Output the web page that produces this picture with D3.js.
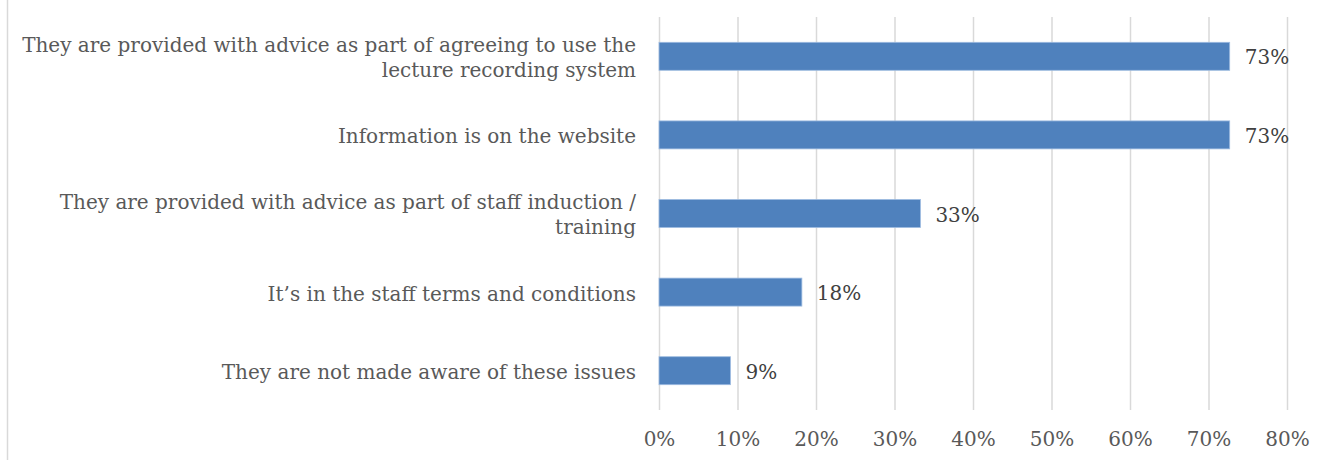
<!DOCTYPE html><html><head><meta charset="utf-8"><script src="https://cdn.jsdelivr.net/npm/d3@7"></script>
<style>body{margin:0;background:#fff}</style></head><body><svg id="chart" width="1323" height="460"></svg><script>
const categories = [
  ["They are provided with advice as part of agreeing to use the", "lecture recording system"],
  ["Information is on the website"],
  ["They are provided with advice as part of staff induction /", "training"],
  ["It\u2019s in the staff terms and conditions"],
  ["They are not made aware of these issues"]
];
const values = [0.727, 0.727, 0.333, 0.182, 0.091];
const valueLabels = ["73%", "73%", "33%", "18%", "9%"];
const tickValues = [0, 0.1, 0.2, 0.3, 0.4, 0.5, 0.6, 0.7, 0.8];

const font = "'DejaVu Serif', serif";
const fs = 20;
const svg = d3.select("#chart");
const W = 1323, H = 460;
const plot = {left: 659, right: 1287, top: 17, bottom: 410};

svg.append("line").attr("x1", 7.5).attr("x2", 7.5).attr("y1", 0).attr("y2", H)
  .attr("stroke", "#d9d9d9").attr("stroke-width", 1.5);

const x = d3.scaleLinear().domain([0, 0.8]).range([plot.left, plot.right]);
const y = d3.scaleBand().domain(d3.range(categories.length)).range([plot.top, plot.bottom]).paddingInner(0.644).paddingOuter(0.322);

// gridlines
const xAxis = d3.axisBottom(x).tickValues(tickValues).tickFormat(d3.format(".0%")).tickSize(-(plot.bottom - plot.top)).tickPadding(22);
const gx = svg.append("g").attr("transform", `translate(0,${plot.bottom})`).call(xAxis);
gx.select(".domain").remove();
gx.selectAll(".tick line").attr("stroke", "#d9d9d9").attr("stroke-width", 1.5);
gx.selectAll(".tick text").attr("font-family", font).attr("font-size", fs).attr("fill", "#595959").attr("dy", "0.71em");

// bars
svg.append("g").selectAll("rect").data(values).join("rect")
  .attr("x", x(0)).attr("y", (d, i) => y(i)).attr("width", d => x(d) - x(0)).attr("height", y.bandwidth())
  .attr("fill", "#4f81bd").attr("stroke", "#9dbbe0").attr("stroke-width", 0.8);

// value labels
svg.append("g").selectAll("text").data(values).join("text")
  .attr("x", d => x(d) + 15).attr("y", (d, i) => y(i) + y.bandwidth() / 2).attr("dy", "0.4em")
  .attr("font-family", font).attr("font-size", fs).attr("fill", "#404040").text((d, i) => valueLabels[i]);

// category labels
const lh = 25;
const cg = svg.append("g").selectAll("text").data(categories).join("text")
  .attr("text-anchor", "end").attr("font-family", font).attr("font-size", fs).attr("fill", "#595959");
cg.each(function(lines, i) {
  const cy = y(i) + y.bandwidth() / 2;
  const t = d3.select(this);
  lines.forEach((ln, j) => {
    t.append("tspan").attr("x", 636).attr("y", cy + (j - (lines.length - 1) / 2) * lh).attr("dy", "0.42em").text(ln);
  });
});
</script></body></html>
